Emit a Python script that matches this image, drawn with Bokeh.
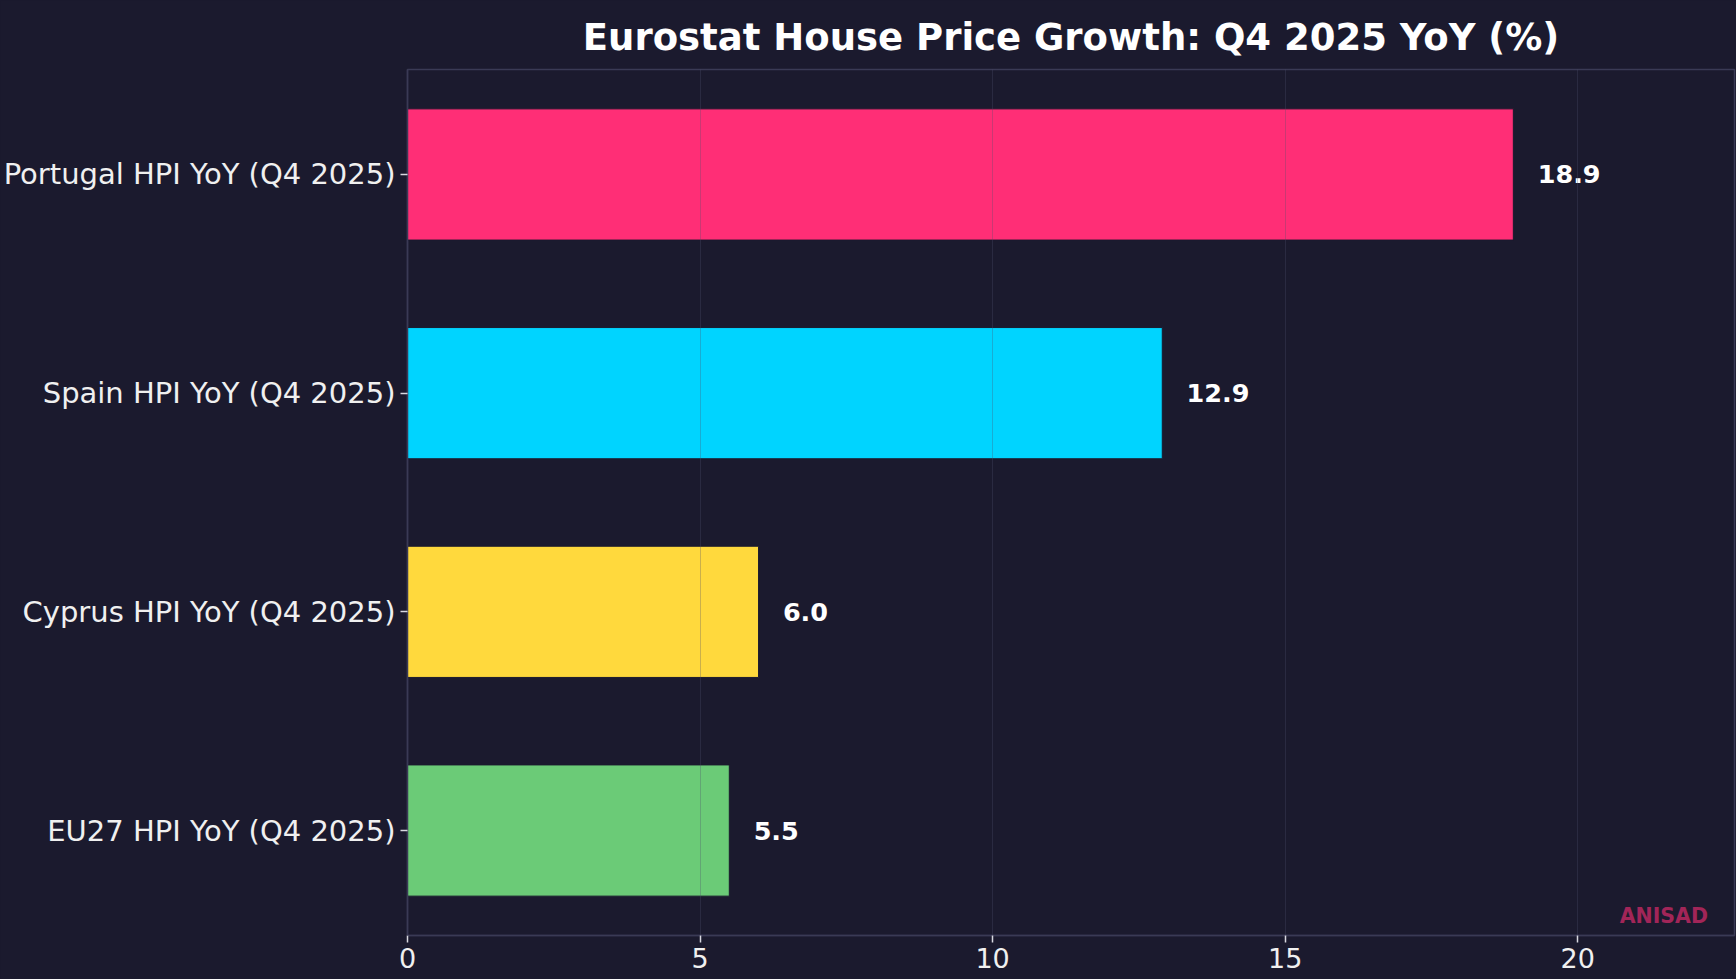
from bokeh.plotting import figure
from bokeh.models import Range1d, FixedTicker, Label, ColumnDataSource, LabelSet
from bokeh.core.properties import value
from bokeh.embed import file_html
from bokeh.resources import INLINE

# ---- data ----
categories = ["EU27 HPI YoY (Q4 2025)", "Cyprus HPI YoY (Q4 2025)",
              "Spain HPI YoY (Q4 2025)", "Portugal HPI YoY (Q4 2025)"]
values = [5.5, 6.0, 12.9, 18.9]
colors = ["#6bcb77", "#ffd93d", "#00d4ff", "#ff2e76"]
x_ticks = [0, 5, 10, 15, 20]
title_text = "Eurostat House Price Growth: Q4 2025 YoY (%)"
watermark = "ANISAD"

BG = "#1b1a2e"
SPINE = "#3a3a55"
FONT = "DejaVu Sans"

ypos = list(range(len(categories)))
xmax = max(values) * 1.2
ymin, ymax = -0.48, len(categories) - 1 + 0.48
offset = max(values) * 0.022

src = ColumnDataSource(dict(
    y=ypos, v=values, c=colors,
    lx=[v + offset for v in values],
    lt=[f"{v:.1f}" for v in values],
))

p = figure(width=1736, height=979, output_backend="svg", toolbar_location=None,
           x_range=Range1d(0, xmax), y_range=Range1d(ymin, ymax),
           min_border_left=406, min_border_right=2, min_border_top=69,
           min_border_bottom=44)
p.background_fill_color = BG
p.border_fill_color = BG
p.outline_line_color = SPINE
p.outline_line_width = 1.5

p.title.text = title_text
p.title.text_font = FONT
p.title.text_font_size = "37px"
p.title.text_font_style = "bold"
p.title.text_color = "#ffffff"
p.title.align = "center"
p.title.standoff = 22

p.hbar(y="y", right="v", left=0, height=0.6, fill_color="c",
       line_color=BG, line_width=1, source=src)

p.add_layout(LabelSet(x="lx", y="y", text="lt", source=src,
                      text_font=value(FONT), text_font_size=value("25.5px"),
                      text_font_style="bold", text_color="#ffffff",
                      text_baseline="middle", text_align="left"))

p.add_layout(Label(x=xmax * 0.98, y=ymin + 0.023 * (ymax - ymin), text=watermark,
                   text_font=FONT, text_font_size="20.5px", text_font_style="bold",
                   text_color="#ff2e76", text_alpha=0.6,
                   text_align="right", text_baseline="alphabetic"))

# axes
p.xaxis.ticker = FixedTicker(ticks=x_ticks)
p.yaxis.ticker = FixedTicker(ticks=ypos)
p.yaxis.major_label_overrides = {i: c for i, c in zip(ypos, categories)}
for ax in (p.xaxis[0], p.yaxis[0]):
    ax.axis_line_color = SPINE
    ax.axis_line_width = 1.5
    ax.major_tick_line_color = "#d8d8e0"
    ax.major_tick_line_width = 1.5
    ax.major_tick_out = 7
    ax.major_tick_in = 0
    ax.minor_tick_line_color = None
    ax.major_label_text_font = FONT
    ax.major_label_text_color = "#f0f0f0"
p.yaxis.major_label_text_font_size = "29px"
p.yaxis.major_label_standoff = 5
p.xaxis.major_label_text_font_size = "27px"
p.xaxis.major_label_standoff = 5

p.ygrid.grid_line_color = None
p.xgrid.grid_line_color = "#50506e"
p.xgrid.grid_line_alpha = 0.3
p.xgrid.grid_line_width = 1
p.xgrid.level = "overlay"

html = file_html(p, INLINE)
style = "<style>html, body { margin: 0; padding: 0; background: #1b1a2e; }</style>"
html = html.replace("<head>", "<head>" + style, 1)
open("out.html", "w").write(html)
